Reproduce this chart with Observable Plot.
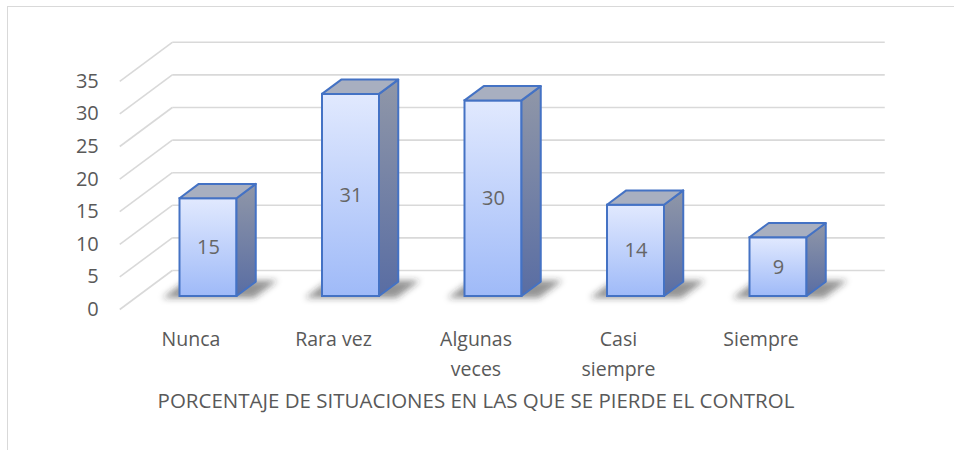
<!DOCTYPE html>
<html><head><meta charset="utf-8">
<script src="https://cdn.jsdelivr.net/npm/d3@7"></script>
<script src="https://cdn.jsdelivr.net/npm/@observablehq/plot@0.6"></script>
<style>
html,body{margin:0;padding:0;background:#fff;overflow:hidden;}
#wrap{position:relative;width:954px;height:450px;overflow:hidden;}
#frame{position:absolute;left:7px;top:6px;width:1000px;height:520px;border:1.5px solid #d9d9d9;box-sizing:border-box;}
#chart{position:absolute;left:0;top:0;}
</style></head><body>
<div id="wrap"><div id="frame"></div><div id="chart"></div></div>
<script>
const categories = ["Nunca", "Rara vez", "Algunas\nveces", "Casi\nsiempre", "Siempre"];
const values = [15, 31, 30, 14, 9];
const yTicks = [0, 5, 10, 15, 20, 25, 30, 35];
const axisTitle = "PORCENTAJE DE SITUACIONES EN LAS QUE SE PIERDE EL CONTROL";

// scale geometry (pixels)
const X0 = 136.75, X1 = 849.25;           // x range for domain [-0.5, 4.5]
const Y0 = 296, PXY = 6.52;                // y(0) and pixels per unit
const PXX = (X1 - X0) / 5;
// oblique depth: pixels per unit of depth
const kx = 17.5 / PXX, ky = 13 / PXY;
const hw = 0.2, zBack = 1.1;
const proj = (x, y, z) => ({x: x + z * kx, y: y + z * ky});

const bars = categories.map((c, i) => ({i, c, v: values[i]}));
const sidePts = bars.flatMap(b => [0, zBack].map(z => ({i: b.i, x: proj(b.i + hw, 0, z).x, y1: z * ky, y2: b.v + z * ky})));
const topPts = bars.flatMap(b => [0, zBack].map(z => ({i: b.i, y: b.v + z * ky, x1: proj(b.i - hw, 0, z).x, x2: proj(b.i + hw, 0, z).x})));
const shadowPts = bars.flatMap(b => [-0.15, 1.2].map(z => ({i: b.i, y: z * ky, x1: proj(b.i - hw - 0.1, 0, z).x, x2: proj(b.i + hw + 0.14, 0, z).x})));
const diag = yTicks.map(t => ({a: proj(-0.5, t, -1), b: proj(-0.5, t, 2)}));
const back = yTicks.map(t => ({a: proj(-0.5, t, 2), b: proj(4.5, t, 2)}));

const defs = () => {
  const d = d3.create("svg:defs");
  const g1 = d.append("linearGradient").attr("id", "gFront").attr("x1", 0).attr("y1", 0).attr("x2", 0).attr("y2", 1);
  g1.append("stop").attr("offset", "0%").attr("stop-color", "#e1e9fe");
  g1.append("stop").attr("offset", "100%").attr("stop-color", "#9fbaf8");
  const g2 = d.append("linearGradient").attr("id", "gSide").attr("x1", 0).attr("y1", 0).attr("x2", 0).attr("y2", 1);
  g2.append("stop").attr("offset", "0%").attr("stop-color", "#9097a8");
  g2.append("stop").attr("offset", "100%").attr("stop-color", "#596da3");
  const f = d.append("filter").attr("id", "fBlur").attr("x", "-50%").attr("y", "-50%").attr("width", "200%").attr("height", "200%");
  f.append("feGaussianBlur").attr("stdDeviation", 3);
  return d.node();
};

const stroke = "#4472c4";
const shadowFill = "#2b2b2b";
const chart = Plot.plot({
  width: 954, height: 450,
  marginLeft: 0, marginRight: 0, marginTop: 0, marginBottom: 0,
  style: {fontFamily: "'Open Sans', sans-serif", fontSize: "18px", background: "transparent", color: "#595959"},
  x: {domain: [-0.5, 4.5], range: [X0, X1], axis: null},
  y: {domain: [0, 35], range: [Y0, Y0 - 35 * PXY], axis: null},
  marks: [
    defs,
    Plot.link(back, {x1: d => d.a.x, y1: d => d.a.y, x2: d => d.b.x, y2: d => d.b.y, stroke: "#d9d9d9", strokeWidth: 1.6}),
    Plot.link(diag, {x1: d => d.a.x, y1: d => d.a.y, x2: d => d.b.x, y2: d => d.b.y, stroke: "#d9d9d9", strokeWidth: 1.6}),
    Plot.areaX(shadowPts, {y: "y", x1: "x1", x2: "x2", z: "i", fill: shadowFill, fillOpacity: 0.5}),
    Plot.rect(bars, {x1: d => d.i - hw, x2: d => d.i + hw, y1: () => 0, y2: "v", fill: "url(#gFront)", stroke, strokeWidth: 2, inset: 0}),
    Plot.areaY(sidePts, {x: "x", y1: "y1", y2: "y2", z: "i", fill: "url(#gSide)", stroke, strokeWidth: 2, strokeLinejoin: "round"}),
    Plot.areaX(topPts, {y: "y", x1: "x1", x2: "x2", z: "i", fill: "#a8afc0", stroke, strokeWidth: 2, strokeLinejoin: "round"}),
    Plot.text(bars, {x: "i", y: d => d.v / 2, text: d => String(d.v), fill: "#666666", fontSize: 20}),
    Plot.text(yTicks, {x: () => proj(-0.5, 0, -1).x, y: d => proj(-0.5, d, -1).y, text: d => String(d), textAnchor: "end", dx: -21, fill: "#595959", fontSize: 20}),
    Plot.text(bars, {x: d => proj(d.i, 0, -1).x, y: () => proj(0, 0, -1).y, text: "c", lineAnchor: "top", dy: 16, lineHeight: 1.5, fill: "#595959", fontSize: 19.5}),
    Plot.text([axisTitle], {x: () => proj(2, 0, -1).x, y: () => proj(0, 0, -1).y, text: d => d, lineAnchor: "top", dy: 84, fill: "#595959", fontSize: 20.5})
  ]
});
d3.select(chart).selectAll(`g[fill="${shadowFill}"]`).attr("filter", "url(#fBlur)");
document.getElementById("chart").appendChild(chart);
</script>
</body></html>
